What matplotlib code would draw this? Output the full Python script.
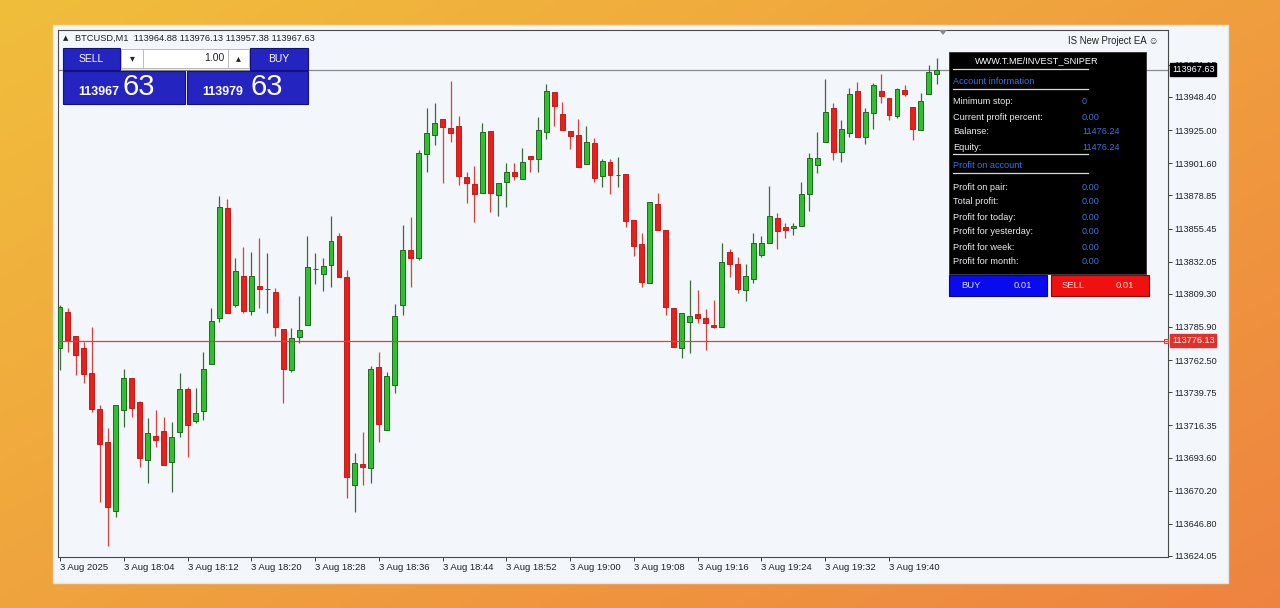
import matplotlib.pyplot as plt
import numpy as np
from matplotlib.patches import Rectangle, Polygon

plt.rcParams['font.family'] = ['Liberation Sans', 'DejaVu Sans']

# --- Data: BTCUSD M1 candles, 3 Aug 2025 17:56 .. 19:46 ---
opens = [
    113771.0, 113796.5, 113779.5, 113771.0, 113753.4, 113727.9, 113704.6, 113655.8, 113727.2, 113749.8,
    113732.9, 113691.9, 113708.8, 113712.4, 113690.5, 113711.7, 113742.1, 113719.4, 113726.5, 113759.7,
    113792.2, 113870.0, 113801.4, 113821.9, 113797.2, 113814.8, 113812.7, 113810.6, 113784.5, 113755.5,
    113778.8, 113787.3, 113826.8, 113823.3, 113829.7, 113850.2, 113821.2, 113674.2, 113689.1, 113686.2,
    113757.6, 113713.1, 113744.9, 113801.4, 113840.3, 113834.6, 113908.1, 113921.5, 113932.8, 113926.5,
    113927.9, 113891.9, 113886.9, 113880.6, 113924.4, 113879.1, 113888.3, 113895.4, 113890.4, 113906.7,
    113904.6, 113923.7, 113951.9, 113936.4, 113924.4, 113921.5, 113901.0, 113915.9, 113892.6, 113902.5,
    113893.3, 113894.0, 113861.5, 113844.5, 113817.0, 113872.8, 113854.4, 113799.3, 113771.0, 113789.4,
    113795.0, 113792.2, 113787.3, 113785.9, 113838.9, 113830.4, 113812.0, 113819.8, 113836.7, 113845.2,
    113862.9, 113856.5, 113855.8, 113857.2, 113879.8, 113900.3, 113916.6, 113940.6, 113909.5, 113922.9,
    113952.6, 113920.1, 113937.1, 113952.6, 113947.7, 113935.0, 113953.3, 113941.3, 113925.1, 113950.5,
    113964.88]
highs = [
    113801.4, 113799.3, 113779.5, 113775.3, 113785.9, 113730.8, 113714.5, 113730.8, 113756.2, 113749.8,
    113733.6, 113721.6, 113727.2, 113722.3, 113718.7, 113753.4, 113743.5, 113742.8, 113768.2, 113799.3,
    113878.4, 113876.3, 113834.6, 113842.4, 113838.9, 113848.8, 113838.2, 113813.4, 113784.5, 113785.2,
    113807.8, 113850.2, 113838.2, 113834.6, 113864.3, 113852.3, 113826.1, 113696.8, 113711.7, 113758.3,
    113768.2, 113754.1, 113802.1, 113857.9, 113863.6, 113910.9, 113940.6, 113944.1, 113932.8, 113959.7,
    113935.0, 113895.4, 113899.6, 113930.0, 113924.4, 113887.6, 113901.7, 113901.7, 113912.4, 113906.7,
    113934.2, 113957.6, 113951.9, 113944.9, 113924.4, 113932.8, 113927.9, 113919.4, 113904.6, 113904.6,
    113906.0, 113894.0, 113861.5, 113852.3, 113874.2, 113880.6, 113854.4, 113799.3, 113795.8, 113819.1,
    113812.0, 113798.6, 113804.9, 113845.2, 113841.0, 113835.3, 113830.4, 113852.3, 113850.2, 113885.5,
    113866.4, 113859.4, 113859.4, 113888.3, 113908.8, 113923.7, 113961.1, 113944.1, 113932.1, 113954.7,
    113959.0, 113940.6, 113958.3, 113964.6, 113947.7, 113954.7, 113956.9, 113941.3, 113951.2, 113971.0,
    113976.13]
lows = [
    113755.5, 113768.2, 113752.0, 113746.3, 113725.8, 113662.2, 113631.1, 113651.6, 113715.2, 113722.3,
    113686.9, 113675.6, 113701.1, 113688.4, 113669.3, 113708.1, 113694.0, 113718.0, 113720.2, 113759.7,
    113789.4, 113795.8, 113800.0, 113795.8, 113794.3, 113799.3, 113795.8, 113779.5, 113732.2, 113754.1,
    113774.6, 113787.3, 113816.2, 113811.3, 113814.1, 113821.2, 113665.0, 113655.1, 113674.2, 113675.6,
    113704.6, 113713.1, 113739.2, 113794.3, 113814.1, 113833.2, 113895.4, 113914.5, 113887.6, 113916.6,
    113886.2, 113873.5, 113860.1, 113880.6, 113867.1, 113864.3, 113870.7, 113889.7, 113890.4, 113895.4,
    113895.4, 113918.7, 113927.9, 113925.1, 113911.6, 113898.9, 113901.0, 113888.3, 113884.8, 113879.8,
    113884.8, 113856.5, 113836.0, 113814.1, 113817.0, 113854.4, 113794.3, 113771.7, 113764.0, 113767.5,
    113788.7, 113769.6, 113785.2, 113785.9, 113821.2, 113809.9, 113804.2, 113817.0, 113835.3, 113845.2,
    113841.0, 113848.8, 113850.9, 113857.2, 113867.8, 113894.7, 113916.6, 113903.9, 113902.5, 113920.1,
    113920.1, 113915.2, 113925.8, 113944.1, 113932.1, 113933.5, 113949.1, 113918.0, 113925.1, 113950.5,
    113957.38]
closes = [
    113800.0, 113776.7, 113766.1, 113752.7, 113727.9, 113703.2, 113658.7, 113730.8, 113749.8, 113728.6,
    113693.3, 113711.0, 113706.0, 113688.4, 113708.1, 113742.1, 113716.6, 113725.1, 113756.2, 113790.1,
    113870.7, 113795.8, 113825.4, 113797.2, 113821.9, 113812.7, 113812.9, 113785.9, 113756.2, 113778.1,
    113783.7, 113828.3, 113827.0, 113829.0, 113846.6, 113821.2, 113679.9, 113689.8, 113686.9, 113756.2,
    113717.3, 113751.2, 113793.6, 113840.3, 113834.6, 113908.8, 113922.9, 113930.0, 113927.2, 113922.9,
    113892.6, 113887.6, 113879.8, 113923.7, 113880.6, 113887.6, 113895.4, 113892.6, 113902.5, 113904.6,
    113925.1, 113952.6, 113942.0, 113925.1, 113920.8, 113898.9, 113916.6, 113891.2, 113903.2, 113893.3,
    113893.5, 113860.8, 113843.1, 113817.7, 113874.2, 113854.4, 113800.0, 113771.7, 113795.8, 113793.6,
    113792.2, 113788.7, 113785.9, 113831.8, 113830.4, 113812.7, 113821.9, 113845.2, 113845.2, 113864.3,
    113853.7, 113854.4, 113857.2, 113879.8, 113905.3, 113905.3, 113937.8, 113909.5, 113925.8, 113950.5,
    113920.1, 113937.8, 113956.9, 113949.1, 113935.7, 113954.0, 113950.5, 113925.8, 113945.6, 113966.0,
    113967.63]

time_labels = ['3 Aug 2025', '3 Aug 18:04', '3 Aug 18:12', '3 Aug 18:20', '3 Aug 18:28',
               '3 Aug 18:36', '3 Aug 18:44', '3 Aug 18:52', '3 Aug 19:00', '3 Aug 19:08',
               '3 Aug 19:16', '3 Aug 19:24', '3 Aug 19:32', '3 Aug 19:40']
price_ticks = [113971.15, 113948.40, 113925.00, 113901.60, 113878.85, 113855.45, 113832.05,
               113809.30, 113785.90, 113762.50, 113739.75, 113716.35, 113693.60, 113670.20,
               113646.80, 113624.05]
bid = 113967.63
level = 113776.13
ask = 113979.63

account_rows = [('Minimum stop:', '0'), ('Current profit percent:', '0.00'),
                ('Balanse:', '11476.24'), ('Equity:', '11476.24')]
profit_rows = [('Profit on pair:', '0.00'), ('Total profit:', '0.00'),
               ('Profit for today:', '0.00'), ('Profit for yesterday:', '0.00'),
               ('Profit for week:', '0.00'), ('Profit for month:', '0.00')]

W, H = 1280, 608
fig = plt.figure(figsize=(12.8, 6.08), dpi=100)

# --- background: orange gradient + screenshot window ---
bg = fig.add_axes([0, 0, 1, 1], zorder=0)
bg.set_xlim(0, W)
bg.set_ylim(H, 0)
bg.axis('off')
GX, GY = np.meshgrid(np.linspace(0, 1, 256), np.linspace(0, 1, 128))
t = np.clip(0.55 * GX + 0.45 * GY, 0, 1)[..., None]
c0 = np.array([0.945, 0.745, 0.235])
c1 = np.array([0.935, 0.515, 0.250])
bg.imshow(c0 + (c1 - c0) * t, extent=(0, W, H, 0), aspect='auto')
bg.add_patch(Rectangle((53, 25), 1175, 558, facecolor='#F3F6FB', edgecolor='#E4E4E4', lw=1))

# --- candle chart ---
ax = fig.add_axes([58 / W, 1 - 557 / H, 1110 / W, 527 / H], zorder=1)
ax.set_facecolor('#F3F6FB')
o, h, l, c = map(np.array, (opens, highs, lows, closes))
x = np.arange(len(o))
up = c >= o
ax.vlines(x[up], l[up], h[up], color='#3D6B3D', lw=0.9, zorder=2)
ax.vlines(x[~up], l[~up], h[~up], color='#D8403C', lw=0.9, zorder=2)
ax.bar(x[up], c[up] - o[up], bottom=o[up], width=0.62, color='#2EC02E',
       edgecolor='#1F6A1F', lw=0.7, zorder=3)
ax.bar(x[~up], c[~up] - o[~up], bottom=o[~up], width=0.62, color='#E8201C',
       edgecolor='#C81A16', lw=0.7, zorder=3)

ax.axhline(bid, color='#8A8A8A', lw=0.9, zorder=1)
ax.axhline(level, color='#E0403A', lw=0.9, zorder=4)

ax.set_xlim(-0.25, 139.0)
ax.set_ylim(113623.34, 113995.72)

ax.set_xticks(np.arange(0, 8 * len(time_labels), 8))
ax.set_xticklabels(time_labels, ha='left')
ax.yaxis.tick_right()
ax.set_yticks(price_ticks)
ax.set_yticklabels([f'{v:.2f}' for v in price_ticks])
ax.tick_params(axis='x', direction='out', length=3, width=0.6, pad=1.5, labelsize=6.8,
               colors='#222222')
ax.tick_params(axis='y', direction='out', length=3, width=0.6, pad=1.5, labelsize=6.6,
               colors='#222222')
for s in ax.spines.values():
    s.set_color('#4A4A4A')
    s.set_linewidth(0.8)

ytr = ax.get_yaxis_transform()
ax.text(1.0035, bid, f'{bid:.2f}', transform=ytr, ha='left', va='center', fontsize=6.6,
        color='white', zorder=10, clip_on=False,
        bbox=dict(boxstyle='square,pad=0.2', fc='black', ec='black'))
ax.text(1.0035, level, f'{level:.2f}', transform=ytr, ha='left', va='center', fontsize=6.6,
        color='white', zorder=10, clip_on=False,
        bbox=dict(boxstyle='square,pad=0.2', fc='#E0302A', ec='#E0302A'))
ax.plot([0.998], [level], transform=ytr, marker='s', ms=3.5, mfc='none', mec='#E0403A',
        mew=0.8, clip_on=False, zorder=9)

# --- overlays (trade panel, EA panel) ---
ov = fig.add_axes([0, 0, 1, 1], zorder=2)
ov.set_xlim(0, W)
ov.set_ylim(H, 0)
ov.axis('off')

ov.text(63, 38, '▲', fontsize=5, color='#222222', va='center', family=['DejaVu Sans'])
ov.text(75, 38, f'BTCUSD,M1  {opens[-1]:.2f} {highs[-1]:.2f} {lows[-1]:.2f} {closes[-1]:.2f}',
        fontsize=6.7, color='#222222', va='center')

blue, blue_dark = '#2424C0', '#12127E'
ov.add_patch(Rectangle((63, 48), 57, 22, fc=blue, ec=blue_dark, lw=0.8))
ov.add_patch(Rectangle((250, 48), 58, 22, fc=blue, ec=blue_dark, lw=0.8))
ov.add_patch(Rectangle((63, 71), 122, 33, fc=blue, ec=blue_dark, lw=0.8))
ov.add_patch(Rectangle((187, 71), 121, 33, fc=blue, ec=blue_dark, lw=0.8))
ov.add_patch(Rectangle((121, 49), 128, 19, fc='white', ec='#B0B0B0', lw=0.6))
ov.plot([143, 143], [49, 68], color='#B0B0B0', lw=0.6)
ov.plot([228, 228], [49, 68], color='#B0B0B0', lw=0.6)
ov.text(132, 58, '▾', fontsize=7, color='#222222', ha='center', va='center',
        family=['DejaVu Sans'])
ov.text(238, 58, '▴', fontsize=7, color='#222222', ha='center', va='center',
        family=['DejaVu Sans'])
ov.text(224, 58, '1.00', fontsize=7.5, color='#222222', ha='right', va='center')
ov.text(91, 59, 'SELL', fontsize=7.5, color='white', ha='center', va='center')
ov.text(279, 59, 'BUY', fontsize=7.5, color='white', ha='center', va='center')
bid_s = f'{bid:.2f}'
ask_s = f'{ask:.2f}'
ov.text(78, 92, bid_s[:6], fontsize=9, fontweight='bold', color='white', va='center')
ov.text(122, 87, bid_s[7:], fontsize=21, color='white', va='center')
ov.text(202, 92, ask_s[:6], fontsize=9, fontweight='bold', color='white', va='center')
ov.text(250, 87, ask_s[7:], fontsize=21, color='white', va='center')

ov.add_patch(Polygon([[939, 30], [947, 30], [943, 35]], closed=True, fc='#8A8A8A', ec='none'))
ov.text(1068, 41, 'IS New Project EA ☺', fontsize=6.9, color='#222222', va='center',
        family=['Liberation Sans', 'DejaVu Sans'])

# EA info panel
ov.add_patch(Rectangle((949, 52), 197, 222, fc='black', ec='#303030', lw=0.6))
lbl_blue = '#3C72E0'
ov.text(1037, 61, 'WWW.T.ME/INVEST_SNIPER', fontsize=6.6, color='white', ha='center', va='center')
ov.plot([953, 1088], [69, 69], color='#D8D8D8', lw=0.9)
ov.text(953, 82, 'Account information', fontsize=6.6, color=lbl_blue, va='center')
ov.plot([953, 1088], [89, 89], color='#D8D8D8', lw=0.9)
for k, (name, val) in enumerate(account_rows):
    yy = 102 + 15 * k
    ov.text(953, yy, name, fontsize=6.6, color='#EDEDED', va='center')
    ov.text(1082, yy, val, fontsize=6.6, color=lbl_blue, va='center')
ov.plot([953, 1088], [154, 154], color='#D8D8D8', lw=0.9)
ov.text(953, 166, 'Profit on account', fontsize=6.6, color=lbl_blue, va='center')
ov.plot([953, 1088], [173, 173], color='#D8D8D8', lw=0.9)
for k, (name, val) in enumerate(profit_rows):
    yy = 187 + 15 * k
    ov.text(953, yy, name, fontsize=6.6, color='#EDEDED', va='center')
    ov.text(1082, yy, val, fontsize=6.6, color=lbl_blue, va='center')

ov.add_patch(Rectangle((949, 275), 98, 21, fc='#0A0AF0', ec='#06068A', lw=0.8))
ov.add_patch(Rectangle((1051, 275), 98, 21, fc='#F01010', ec='#8A0606', lw=0.8))
ov.text(961, 285.5, 'BUY', fontsize=6.8, color='#D8E0FF', va='center')
ov.text(1014, 285.5, '0.01', fontsize=6.8, color='#D8E0FF', va='center')
ov.text(1062, 285.5, 'SELL', fontsize=6.8, color='#FFE0E0', va='center')
ov.text(1116, 285.5, '0.01', fontsize=6.8, color='#FFE0E0', va='center')

fig.savefig('out.png', dpi=100)
